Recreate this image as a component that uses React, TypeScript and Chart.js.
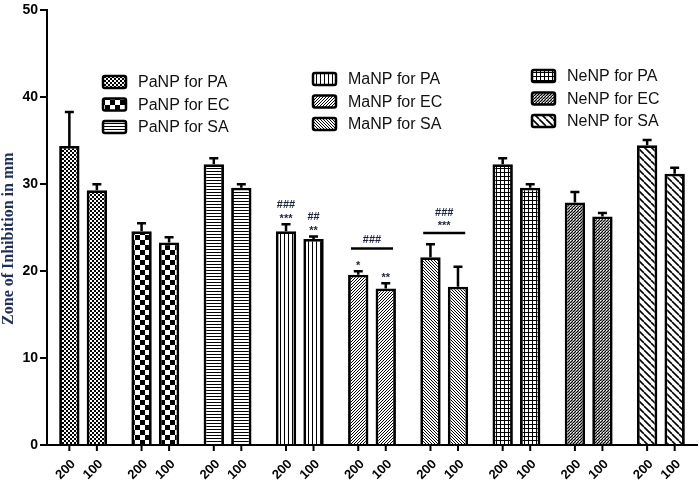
import { useEffect, useRef } from 'react';
import { Chart, registerables } from 'chart.js';

Chart.register(...registerables);

// groups (one per nanoparticle / organism), each shown at two doses
const groupNames = [
  'PaNP for PA', 'PaNP for EC', 'PaNP for SA',
  'MaNP for PA', 'MaNP for EC', 'MaNP for SA',
  'NeNP for PA', 'NeNP for EC', 'NeNP for SA',
];
const doseLabels = ['200', '100'];

const values200 = [34.4, 24.6, 32.3, 24.6, 19.6, 21.6, 32.3, 27.9, 34.5];
const errors200 = [3.9, 0.9, 0.7, 0.8, 0.4, 1.5, 0.7, 1.2, 0.6];
const values100 = [29.3, 23.3, 29.6, 23.7, 18.0, 18.2, 29.6, 26.3, 31.2];
const errors100 = [0.7, 0.6, 0.4, 0.3, 0.6, 2.3, 0.4, 0.4, 0.7];

const yTicks = [0, 10, 20, 30, 40, 50];
const yTitle = 'Zone of Inhibition in mm';

// fill pattern per group
const patternKinds = [
  'fineChecker', 'checker', 'hlines',
  'vlines', 'diagFwd', 'diagBack',
  'grid', 'diagFwdDense', 'diagBackWide',
];

// significance marks over single bars (bar 0 = 200, bar 1 = 100), lines listed bottom-up
const barMarks = [
  { group: 3, bar: 0, lines: ['***', '###'] },
  { group: 3, bar: 1, lines: ['**', '##'] },
  { group: 4, bar: 0, lines: ['*'] },
  { group: 4, bar: 1, lines: ['**'] },
];
// marks over a bracket spanning both bars of a group
const bracketMarks = [
  { group: 4, level: 22.6, lines: ['###'] },
  { group: 5, level: 24.4, lines: ['***', '###'] },
];

const markColor = '#1b2240';

function makePattern(kind: string): CanvasPattern {
  const sizes: Record<string, number> = {
    fineChecker: 4, checker: 10, hlines: 3, vlines: 4, diagFwd: 3,
    diagBack: 3, grid: 4, diagFwdDense: 3, diagBackWide: 7,
  };
  const s = sizes[kind] || 4;
  const c = document.createElement('canvas');
  c.width = s;
  c.height = s;
  const g = c.getContext('2d')!;
  g.fillStyle = '#fff';
  g.fillRect(0, 0, s, s);
  g.fillStyle = '#000';
  g.strokeStyle = '#000';
  switch (kind) {
    case 'fineChecker':
      g.fillRect(0, 0, 2, 2);
      g.fillRect(2, 2, 2, 2);
      break;
    case 'checker':
      g.fillRect(0, 0, 5, 5);
      g.fillRect(5, 5, 5, 5);
      break;
    case 'hlines':
      g.fillRect(0, 0, s, 1);
      break;
    case 'vlines':
      g.fillRect(0, 0, 1, s);
      break;
    case 'grid':
      g.fillRect(0, 0, s, 1);
      g.fillRect(0, 0, 1, s);
      break;
    case 'diagFwd':
      for (let i = 0; i < s; i++) g.fillRect(i, s - 1 - i, 1, 1);
      break;
    case 'diagBack':
      for (let i = 0; i < s; i++) g.fillRect(i, i, 1, 1);
      break;
    case 'diagFwdDense':
      g.fillStyle = '#9a9a9a';
      g.fillRect(0, 0, s, s);
      g.fillStyle = '#fff';
      g.fillRect(0, 0, 1, 1);
      g.fillStyle = '#000';
      for (let i = 0; i < s; i++) g.fillRect(i, s - 1 - i, 1, 1);
      break;
    case 'diagBackWide':
      g.lineWidth = 1.6;
      for (const o of [-s, 0, s]) {
        g.beginPath();
        g.moveTo(o, 0);
        g.lineTo(o + s, s);
        g.stroke();
      }
      break;
  }
  return g.createPattern(c, 'repeat')!;
}

const App = () => {
  const canvasRef = useRef<HTMLCanvasElement>(null);
  const chartRef = useRef<Chart | null>(null);

  useEffect(() => {
    document.body.style.margin = '0';
    if (!canvasRef.current) return;
    const ctx = canvasRef.current.getContext('2d');
    if (!ctx) return;
    if (chartRef.current) chartRef.current.destroy();

    const patterns = patternKinds.map(makePattern);
    const values = [values200, values100];
    const errors = [errors200, errors100];

    // error bars, significance marks, dose ticks, axis title and the legend
    const overlay = {
      id: 'overlay',
      afterDatasetsDraw(chart: any) {
        const c = chart.ctx;
        const yScale = chart.scales.y;
        const metas = [chart.getDatasetMeta(0), chart.getDatasetMeta(1)];
        c.save();
        c.strokeStyle = '#000';
        c.lineWidth = 2.5;
        metas.forEach((meta: any, d: number) => {
          meta.data.forEach((el: any, i: number) => {
            const top = yScale.getPixelForValue(values[d][i] + errors[d][i]);
            c.beginPath();
            c.moveTo(el.x, el.y);
            c.lineTo(el.x, top);
            c.moveTo(el.x - 4.5, top);
            c.lineTo(el.x + 4.5, top);
            c.stroke();
          });
        });

        c.fillStyle = markColor;
        c.font = 'bold 11px Arial, "Liberation Sans"';
        c.textAlign = 'center';
        c.textBaseline = 'middle';
        const drawLines = (x: number, base: number, lines: string[], first: number) => {
          lines.forEach((t, k) => {
            const yy = base - first - k * 11 + (t.startsWith('*') ? 2.5 : 0);
            c.fillText(t, x, yy);
          });
        };
        barMarks.forEach((m) => {
          const el = metas[m.bar].data[m.group];
          const top = yScale.getPixelForValue(values[m.bar][m.group] + errors[m.bar][m.group]);
          drawLines(el.x, top, m.lines, 8);
        });
        bracketMarks.forEach((m) => {
          const a = metas[0].data[m.group];
          const b = metas[1].data[m.group];
          const mid = (a.x + b.x) / 2;
          const ly = yScale.getPixelForValue(m.level);
          c.strokeStyle = '#000';
          c.lineWidth = 2.5;
          c.beginPath();
          c.moveTo(mid - 21, ly);
          c.lineTo(mid + 21, ly);
          c.stroke();
          drawLines(mid, ly, m.lines, 9);
        });
        c.restore();
      },
      afterDraw(chart: any) {
        const c = chart.ctx;
        const area = chart.chartArea;
        const bottom = area.bottom;
        const metas = [chart.getDatasetMeta(0), chart.getDatasetMeta(1)];
        c.save();
        c.strokeStyle = '#000';
        c.lineWidth = 2;
        c.fillStyle = '#000';
        c.font = 'bold 13px Arial, "Liberation Sans"';
        c.textAlign = 'right';
        c.textBaseline = 'middle';
        metas.forEach((meta: any, d: number) => {
          meta.data.forEach((el: any) => {
            c.beginPath();
            c.moveTo(el.x, bottom);
            c.lineTo(el.x, bottom + 6);
            c.stroke();
            c.save();
            c.translate(el.x + 4, bottom + 17);
            c.rotate(-Math.PI / 4);
            c.fillText(doseLabels[d], 0, 0);
            c.restore();
          });
        });

        // y axis title, a little below the middle of the axis as in the figure
        c.save();
        c.translate(9, (area.top + area.bottom) / 2 + 11);
        c.rotate(-Math.PI / 2);
        c.textAlign = 'center';
        c.fillStyle = '#1f2f5c';
        c.font = 'bold 16px "Times New Roman", "Liberation Serif"';
        c.fillText(yTitle, 0, 0);
        c.restore();

        // legend, three blocks of three
        const blocks = [
          { x: 103, y: 82 },
          { x: 313, y: 79 },
          { x: 532, y: 76 },
        ];
        c.font = '16px Arial, "Liberation Sans"';
        c.textAlign = 'left';
        c.textBaseline = 'middle';
        groupNames.forEach((name, i) => {
          const blk = blocks[Math.floor(i / 3)];
          const row = i % 3;
          const bx = blk.x;
          const by = blk.y + row * 22.5;
          c.fillStyle = patterns[i];
          c.beginPath();
          c.roundRect(bx, by - 6, 23, 12, 2);
          c.fill();
          c.lineWidth = 2.5;
          c.strokeStyle = '#000';
          c.stroke();
          c.fillStyle = '#111';
          c.fillText(name, bx + 35, by + 1);
        });
        c.restore();
      },
    };

    chartRef.current = new Chart(ctx, {
      type: 'bar',
      data: {
        labels: groupNames,
        datasets: [
          {
            label: doseLabels[0],
            data: values200,
            backgroundColor: patterns,
            borderColor: '#000',
            borderWidth: 2.8,
            borderSkipped: 'bottom',
          },
          {
            label: doseLabels[1],
            data: values100,
            backgroundColor: patterns,
            borderColor: '#000',
            borderWidth: 2.8,
            borderSkipped: 'bottom',
          },
        ],
      },
      options: {
        responsive: false,
        animation: false,
        devicePixelRatio: 1,
        layout: { padding: { top: 7, right: 2, left: 0, bottom: 0 } },
        datasets: {
          bar: { categoryPercentage: 0.762, barPercentage: 0.74 },
        },
        plugins: {
          legend: { display: false },
          tooltip: { enabled: false },
        },
        scales: {
          x: {
            type: 'category',
            offset: true,
            grid: { display: false },
            ticks: { display: false },
            border: { display: true, color: '#000', width: 2 },
            afterFit: (s: any) => { s.height = 41; },
          },
          y: {
            min: 0,
            max: 50,
            afterBuildTicks: (s: any) => { s.ticks = yTicks.map((v) => ({ value: v })); },
            grid: { drawOnChartArea: false, drawTicks: true, tickLength: 7, color: '#000', lineWidth: 2 },
            border: { display: true, color: '#000', width: 2 },
            ticks: {
              color: '#000',
              padding: 2,
              font: { family: 'Arial, "Liberation Sans"', weight: 'bold', size: 14 },
            },
            title: { display: false },
            afterFit: (s: any) => { s.width = 47; },
          },
        },
      },
      plugins: [overlay],
    });

    return () => {
      if (chartRef.current) {
        chartRef.current.destroy();
        chartRef.current = null;
      }
    };
  }, []);

  return (
    <div style={{ width: 699, height: 486, background: '#fff' }}>
      <canvas ref={canvasRef} width={699} height={486}></canvas>
    </div>
  );
};

export default App;
